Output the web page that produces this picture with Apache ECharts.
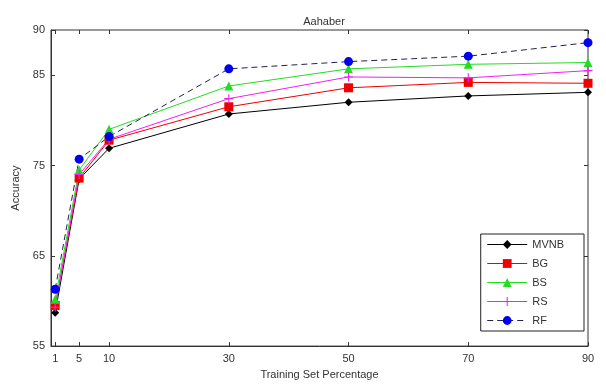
<!DOCTYPE html>
<html>
<head>
<meta charset="utf-8">
<script src="https://cdn.jsdelivr.net/npm/echarts@6/dist/echarts.min.js"></script>
<style>
  html, body { margin: 0; padding: 0; background: #fff; }
  #chart { width: 606px; height: 385px; }
</style>
</head>
<body>
<div id="chart"></div>
<script>
// training set percentages (x positions)
const trainPct = [1, 5, 10, 30, 50, 70, 90];
const xTicks = [1, 5, 10, 30, 50, 70, 90];
const yTicks = [55, 65, 75, 85, 90];

// accuracy per method
const mvnb = [58.7, 73.5, 76.9, 80.7, 82.0, 82.7, 83.1];
const bg   = [59.5, 73.6, 77.8, 81.5, 83.6, 84.2, 84.1];
const bs   = [60.2, 74.5, 79.0, 83.8, 85.7, 86.2, 86.4];
const rs   = [59.3, 74.0, 77.9, 82.4, 84.8, 84.7, 85.5];
const rf   = [61.3, 75.7, 78.2, 85.7, 86.5, 87.1, 88.6];

const plusPath = 'path://M4.4,0H5.6V4.4H10V5.6H5.6V10H4.4V5.6H0V4.4H4.4Z';

const chart = echarts.init(document.getElementById('chart'));

function pairs(vals) {
  return trainPct.map((x, i) => [x, vals[i]]);
}

function mk(name, vals, color, symbol, size, lineColor, dashed) {
  return {
    name: name,
    type: 'line',
    data: pairs(vals),
    symbol: symbol,
    symbolSize: size,
    showSymbol: true,
    animation: false,
    itemStyle: { color: color },
    lineStyle: { color: lineColor || color, width: 1, type: dashed ? [6, 4] : 'solid' },
    z: 3
  };
}

const txt = { color: '#333', fontFamily: 'Liberation Sans, Arial, sans-serif', fontSize: 11 };

const option = {
  backgroundColor: '#fff',
  animation: false,
  title: {
    text: 'Aahaber',
    left: 319, textAlign: 'center',
    top: 11,
    textStyle: Object.assign({}, txt, { fontWeight: 'normal' })
  },
  grid: { left: 51, right: 18, top: 30, bottom: 38, show: true, borderColor: '#333', borderWidth: 1 },
  legend: {
    orient: 'vertical',
    right: 22, top: 234,
    padding: [5, 20, 5, 6],
    itemWidth: 40, itemHeight: 11, itemGap: 8,
    itemTextGap: 4,
    lineStyle: { width: 1 },
    borderColor: '#222', borderWidth: 1,
    backgroundColor: '#fff',
    textStyle: txt,
    data: ['MVNB', 'BG', 'BS', 'RS', 'RF']
  },
  xAxis: [{
    type: 'value', min: 0.3, max: 90,
    name: 'Training Set Percentage', nameLocation: 'middle', nameGap: 22,
    nameTextStyle: txt,
    axisLine: { show: true, lineStyle: { color: '#333' } },
    axisTick: { show: true, inside: true, length: 4, customValues: xTicks, lineStyle: { color: '#333' } },
    axisLabel: { customValues: xTicks, margin: 7, ...txt },
    splitLine: { show: false }
  }, {
    type: 'value', min: 0.3, max: 90, position: 'top',
    axisLine: { show: false },
    axisTick: { show: true, inside: true, length: 4, customValues: xTicks, lineStyle: { color: '#333' } },
    axisLabel: { show: false },
    splitLine: { show: false }
  }],
  yAxis: [{
    type: 'value', min: 55, max: 90,
    name: 'Accuracy', nameLocation: 'middle', nameGap: 30,
    nameTextStyle: txt,
    axisLine: { show: true, lineStyle: { color: '#333' } },
    axisTick: { show: true, inside: true, length: 4, customValues: yTicks, lineStyle: { color: '#333' } },
    axisLabel: { customValues: yTicks, margin: 6, ...txt },
    splitLine: { show: false }
  }, {
    type: 'value', min: 55, max: 90, position: 'right',
    axisLine: { show: false },
    axisTick: { show: true, inside: true, length: 4, customValues: yTicks, lineStyle: { color: '#333' } },
    axisLabel: { show: false },
    splitLine: { show: false }
  }],
  series: [
    mk('MVNB', mvnb, '#000000', 'diamond', 8),
    mk('BG', bg, '#ee0000', 'rect', 9),
    mk('BS', bs, '#22dd22', 'triangle', 9),
    mk('RS', rs, '#ee22ee', plusPath, 9),
    mk('RF', rf, '#0000ee', 'circle', 9, '#222255', true)
  ]
};

chart.setOption(option);
</script>
</body>
</html>
